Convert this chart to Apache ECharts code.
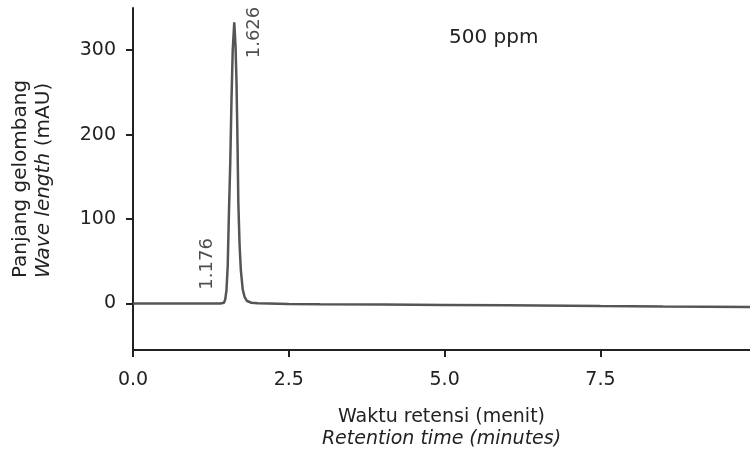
<!DOCTYPE html>
<html>
<head>
<meta charset="utf-8">
<script src="https://cdn.jsdelivr.net/npm/echarts@6/dist/echarts.min.js"></script>
<style>
  html, body { margin: 0; padding: 0; background: #fff; }
  #chart { width: 750px; height: 456px; }
</style>
</head>
<body>
<div id="chart"></div>
<script>
// retention time (minutes) and detector signal (mAU)
var times = [0.0, 0.5, 1.0, 1.4, 1.46, 1.48, 1.50, 1.52, 1.54, 1.56, 1.58, 1.60, 1.625,
    1.645, 1.66, 1.675, 1.69, 1.71, 1.73, 1.76, 1.79, 1.83, 1.90, 2.0, 2.5, 3.0, 4.0,
    5.0, 6.0, 7.0, 7.5, 8.5, 9.9];
var signal = [0, 0, 0, 0, 1, 5, 16, 45, 110, 165, 240, 300, 333,
    305, 265, 200, 120, 70, 40, 17, 8, 3, 1, 0.3, -0.5, -0.8, -1.2,
    -1.6, -2, -2.5, -3, -3.5, -4];

var xTicks = [0, 2.5, 5, 7.5];
var yTicks = [0, 100, 200, 300];

// peak annotations: [time, signal, text]
var peakLabels = [[1.94, 321, '1.626'], [1.19, 47, '1.176']];
var sampleLabel = '500 ppm';

var font = 'DejaVu Sans';
var textColor = '#222';

var dom = document.getElementById('chart');
var myChart = echarts.init(dom);

var trace = times.map(function (t, i) { return [t, signal[i]]; });

myChart.setOption({
    animation: false,
    grid: { left: 133, right: 0, top: 8, bottom: 106 },
    xAxis: {
        type: 'value',
        min: 0,
        max: 9.9,
        name: '{n|Waktu retensi (menit)}\n{i|Retention time (minutes)}',
        nameLocation: 'middle',
        nameGap: 56,
        nameTextStyle: {
            color: textColor,
            fontFamily: font,
            rich: {
                n: { fontSize: 19, fontFamily: font, color: textColor, lineHeight: 22 },
                i: { fontSize: 19, fontFamily: font, color: textColor, lineHeight: 22, fontStyle: 'italic' }
            }
        },
        axisLine: { onZero: false, lineStyle: { color: '#222', width: 2 } },
        axisTick: { length: 7, lineStyle: { color: '#222', width: 2 }, customValues: xTicks },
        axisLabel: {
            customValues: xTicks,
            color: textColor, fontFamily: font, fontSize: 19, margin: 21,
            formatter: function (v) { return v.toFixed(1); }
        },
        splitLine: { show: false }
    },
    yAxis: {
        type: 'value',
        min: -55,
        max: 350,
        name: '{n|Panjang gelombang}\n{i|Wave length} {n|(mAU)}',
        nameLocation: 'middle',
        nameRotate: 90,
        nameGap: 78,
        nameTextStyle: {
            color: textColor,
            fontFamily: font,
            rich: {
                n: { fontSize: 20, fontFamily: font, color: textColor, lineHeight: 23, align: 'left' },
                i: { fontSize: 20, fontFamily: font, color: textColor, lineHeight: 23, fontStyle: 'italic', align: 'left' }
            }
        },
        axisLine: { show: true, onZero: false, lineStyle: { color: '#222', width: 2 } },
        axisTick: { show: true, length: 7, lineStyle: { color: '#222', width: 2 }, customValues: yTicks },
        axisLabel: { customValues: yTicks, color: textColor, fontFamily: font, fontSize: 19, margin: 17 },
        splitLine: { show: false }
    },
    graphic: [{
        type: 'text',
        left: 449,
        top: 28,
        style: { text: sampleLabel, fill: textColor, font: '20px "DejaVu Sans"' }
    }],
    series: [{
        type: 'line',
        data: trace,
        showSymbol: false,
        lineStyle: { color: '#555', width: 2.5 }
    }, {
        type: 'scatter',
        symbolSize: 0,
        data: peakLabels.map(function (p) { return { value: [p[0], p[1]], name: p[2] }; }),
        label: {
            show: true,
            position: 'inside',
            rotate: 90,
            formatter: '{b}',
            color: textColor,
            fontFamily: font,
            fontSize: 18
        }
    }]
});
</script>
</body>
</html>
